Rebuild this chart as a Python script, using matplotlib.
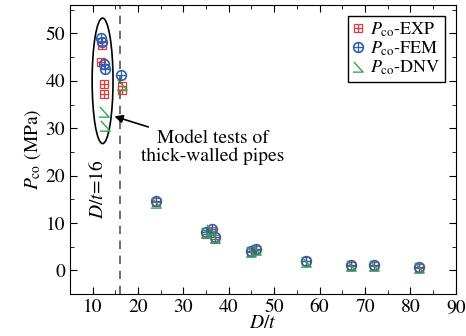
import matplotlib
matplotlib.use("Agg")
import matplotlib.pyplot as plt
from matplotlib.patches import Ellipse
from matplotlib.path import Path
from matplotlib.legend_handler import HandlerTuple
from matplotlib.ticker import MultipleLocator

plt.rcParams['font.family'] = ['STIXGeneral', 'DejaVu Serif']
plt.rcParams['mathtext.fontset'] = 'stix'

# datos
dt_exp = [12.0, 11.9, 12.5, 12.5, 16.4, 16.5, 24, 35, 36, 37, 45, 46, 57, 67, 72, 82]
p_exp = [47.5, 44.0, 39.3, 37.3, 38.9, 38.0, 14.4, 7.6, 8.4, 6.6, 3.8, 4.2, 1.9, 1.0, 1.0, 0.5]

dt_fem = [11.9, 12.0, 12.6, 12.8, 16.3, 24, 35, 36.3, 37, 45, 46, 57, 67, 72, 82]
p_fem = [49.0, 48.2, 43.5, 42.5, 41.2, 14.7, 8.1, 8.8, 7.0, 4.0, 4.5, 2.0, 1.2, 1.1, 0.7]

dt_dnv = [12.5, 12.7, 16.5, 24, 35, 36, 37, 45, 46, 57, 67, 72, 82]
p_dnv = [33.5, 30.5, 39.2, 14.3, 7.8, 8.6, 6.8, 3.9, 4.3, 1.8, 1.0, 0.9, 0.5]

rojo = '#e8383c'
azul = '#2d5fb0'
verde = '#2fa84f'

# marcador tipo "⊿" abierto
ang = Path([(-0.5, 0.6), (0.5, -0.5), (-0.6, -0.5)],
           [Path.MOVETO, Path.LINETO, Path.LINETO])

fig = plt.figure(figsize=(4.66, 3.36), dpi=100)
ax = fig.add_axes([0.150, 0.125, 0.828, 0.860])

e1, = ax.plot(dt_exp, p_exp, ls='none', marker='s', ms=6, mfc='none', mec=rojo, mew=0.9)
e2, = ax.plot(dt_exp, p_exp, ls='none', marker='+', ms=6, mec=rojo, mew=0.9)
f1, = ax.plot(dt_fem, p_fem, ls='none', marker='o', ms=7, mfc='none', mec=azul, mew=1.2)
f2, = ax.plot(dt_fem, p_fem, ls='none', marker='+', ms=7, mec=azul, mew=0.9)
d1, = ax.plot(dt_dnv, p_dnv, ls='none', marker=ang, ms=8, mfc='none', mec=verde, mew=1.0)

ax.axvline(16, color='#555555', ls=(0, (5, 4)), lw=1.2)
ax.text(11.0, 17, '$D$/$t$=16', rotation=90, ha='center', va='center', fontsize=14)

ax.add_patch(Ellipse((12.2, 40), 4.6, 26.5, fill=False, ec='black', lw=1.2))
ax.annotate('Model tests of\nthick-walled pipes', xy=(14.8, 32.5), xytext=(36.5, 26),
            ha='center', va='center', fontsize=14, linespacing=1.0,
            arrowprops=dict(arrowstyle='-|>', color='black', lw=1.2,
                            shrinkA=28, shrinkB=0, mutation_scale=12))

ax.set_xlim(5, 90)
ax.set_ylim(-5, 56)
ax.xaxis.set_major_locator(MultipleLocator(10))
ax.xaxis.set_minor_locator(MultipleLocator(5))
ax.yaxis.set_major_locator(MultipleLocator(10))
ax.yaxis.set_minor_locator(MultipleLocator(5))
ax.tick_params(which='both', direction='in', top=True, right=True, labelsize=14)
ax.tick_params(which='major', length=5)
ax.tick_params(which='minor', length=3)
ax.set_xlabel('$D/t$', fontsize=14, labelpad=-1)
ax.set_ylabel(r'$P_{\rm co}$ (MPa)', fontsize=14, labelpad=2)

leg = ax.legend([(e1, e2), (f1, f2), d1],
                [r'$P_{\rm co}$-EXP', r'$P_{\rm co}$-FEM', r'$P_{\rm co}$-DNV'],
                handler_map={tuple: HandlerTuple(ndivide=1)},
                loc='upper right', fontsize=13, fancybox=False, edgecolor='black',
                framealpha=1, handlelength=0.7, handletextpad=0.3,
                labelspacing=0.05, borderpad=0.25, borderaxespad=0.6)
leg.get_frame().set_linewidth(1.0)

fig.savefig('out.png', dpi=100)
plt.close(fig)
